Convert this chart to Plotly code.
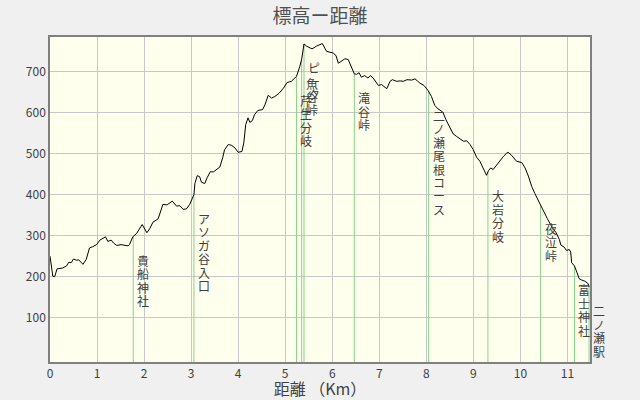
import numpy as np
import plotly.graph_objects as go

# Elevation profile (distance in km, elevation in m)
dist_km = [0.00, 0.02, 0.06, 0.10, 0.15, 0.27, 0.35, 0.40, 0.45, 0.50, 0.56, 0.61, 0.70, 0.77, 0.84, 0.91, 0.99,
           1.06, 1.18, 1.23, 1.30, 1.35, 1.42, 1.51, 1.59, 1.66, 1.69, 1.76, 1.84, 1.89, 1.96, 2.06, 2.12, 2.19,
           2.30, 2.40, 2.49, 2.60, 2.69, 2.76, 2.83, 2.90, 2.97, 3.06, 3.08, 3.13, 3.18, 3.22, 3.29, 3.34, 3.41,
           3.47, 3.52, 3.61, 3.67, 3.71, 3.79, 3.86, 3.93, 4.00, 4.08, 4.12, 4.16, 4.21, 4.25, 4.30, 4.35, 4.42,
           4.52, 4.57, 4.64, 4.71, 4.78, 4.87, 4.96, 5.04, 5.13, 5.24, 5.31, 5.35, 5.40, 5.45, 5.57, 5.67, 5.79,
           5.88, 6.02, 6.08, 6.13, 6.20, 6.27, 6.34, 6.40, 6.47, 6.52, 6.57, 6.62, 6.69, 6.76, 6.81, 6.87, 6.98,
           7.05, 7.16, 7.23, 7.28, 7.37, 7.44, 7.51, 7.59, 7.69, 7.76, 7.81, 7.86, 7.95, 8.04, 8.11, 8.18, 8.25,
           8.35, 8.42, 8.50, 8.57, 8.64, 8.72, 8.79, 8.86, 8.93, 9.00, 9.07, 9.14, 9.21, 9.28, 9.32, 9.37, 9.42,
           9.50, 9.57, 9.64, 9.71, 9.74, 9.81, 9.92, 10.03, 10.10, 10.17, 10.24, 10.31, 10.38, 10.43, 10.50,
           10.57, 10.67, 10.76, 10.83, 10.86, 10.93, 10.98, 11.04, 11.07, 11.09, 11.15, 11.20, 11.25, 11.30,
           11.37, 11.44, 11.46]
elev_m = [250, 228, 201, 200, 219, 221, 226, 235, 234, 243, 240, 241, 230, 242, 270, 273, 278,
          289, 297, 286, 289, 282, 276, 278, 276, 275, 278, 297, 305, 315, 327, 307, 317, 333,
          341, 376, 375, 384, 372, 373, 364, 365, 376, 400, 427, 446, 444, 430, 427, 441, 456,
          455, 459, 467, 489, 509, 522, 520, 514, 503, 505, 526, 570, 587, 576, 580, 595, 605,
          607, 619, 642, 635, 639, 647, 659, 673, 676, 688, 712, 730, 767, 762, 755, 762, 768,
          749, 745, 739, 720, 726, 731, 729, 712, 694, 693, 697, 686, 690, 684, 690, 684, 666,
          668, 658, 676, 680, 676, 677, 676, 680, 679, 682, 677, 672, 666, 653, 639, 617, 609,
          601, 582, 562, 548, 542, 536, 530, 531, 522, 509, 491, 481, 465, 447, 458, 465, 461,
          473, 485, 493, 501, 503, 496, 481, 478, 465, 445, 420, 402, 385, 376, 357,
          342, 321, 307, 290, 277, 272, 264, 266, 260, 234, 226, 211, 195, 192,
          189, 183, 175]

# Landmarks
place_names = ["貴船神社", "アソガ谷入口", "芹生分岐", "魚谷峠", "ピーク", "滝谷峠",
               "二ノ瀬尾根コース", "大岩分岐", "夜泣峠", "富士神社", "二ノ瀬駅"]
place_km = [1.77, 3.06, 5.24, 5.35, 5.40, 6.47, 8.05, 9.31, 10.43, 11.15, 11.46]

x_ticks = list(range(0, 12))
y_ticks = [100, 200, 300, 400, 500, 600, 700]

Y_MIN, Y_MAX = -8, 784
X_MIN, X_MAX = 0, 11.48

place_elev = np.interp(place_km, dist_km, elev_m)

FONT = "Noto Sans CJK JP"
TXT = "#404040"

fig = go.Figure()

# green marker lines
gx, gy = [], []
for d, e in zip(place_km, place_elev):
    gx += [d, d, None]
    gy += [Y_MIN, e, None]
fig.add_trace(go.Scatter(x=gx, y=gy, mode="lines", line=dict(color="#86d486", width=1),
                         hoverinfo="skip", showlegend=False, cliponaxis=False))

fig.add_trace(go.Scatter(x=dist_km, y=elev_m, mode="lines",
                         line=dict(color="black", width=1), showlegend=False))

# vertical labels (one character per annotation)
for name, d, e in zip(place_names, place_km, place_elev):
    for i, ch in enumerate(name):
        fig.add_annotation(x=d, y=e, xref="x", yref="y", text=ch, showarrow=False,
                           xanchor="center", yanchor="middle", xshift=10, yshift=-(24 + i * 13.4),
                           font=dict(family=FONT, size=12, color=TXT))

fig.update_layout(
    width=640, height=400,
    margin=dict(l=50, r=50, t=37, b=38, autoexpand=False),
    paper_bgcolor="#f0f0f0", plot_bgcolor="#ffffee",
    title=dict(text="標高ー距離", x=0.5, xanchor="center", y=0.958, yanchor="middle",
               font=dict(family=FONT, size=19, color="#505050")),
    font=dict(family=FONT, color=TXT),
    showlegend=False,
)
fig.update_xaxes(range=[X_MIN, X_MAX], tickvals=x_ticks, ticktext=[str(v) for v in x_ticks],
                 showgrid=True, gridcolor="#c8c8c8", gridwidth=1, zeroline=False, automargin=False,
                 showline=True, linecolor="#808080", linewidth=1.5, mirror=True, ticks="",
                 tickfont=dict(family=FONT, size=12, color=TXT),
                 title=dict(text="距離 （Km）", standoff=0, font=dict(family=FONT, size=16, color=TXT)))
fig.update_yaxes(range=[Y_MIN, Y_MAX], tickvals=y_ticks, ticktext=[str(v) for v in y_ticks],
                 showgrid=True, gridcolor="#c8c8c8", gridwidth=1, zeroline=False, automargin=False,
                 showline=True, linecolor="#808080", linewidth=1.5, mirror=True, ticks="",
                 tickfont=dict(family=FONT, size=12, color=TXT))

fig.write_html("out.html", config={"displayModeBar": False},
               post_script="document.body.style.margin='0';document.body.style.padding='0';")
